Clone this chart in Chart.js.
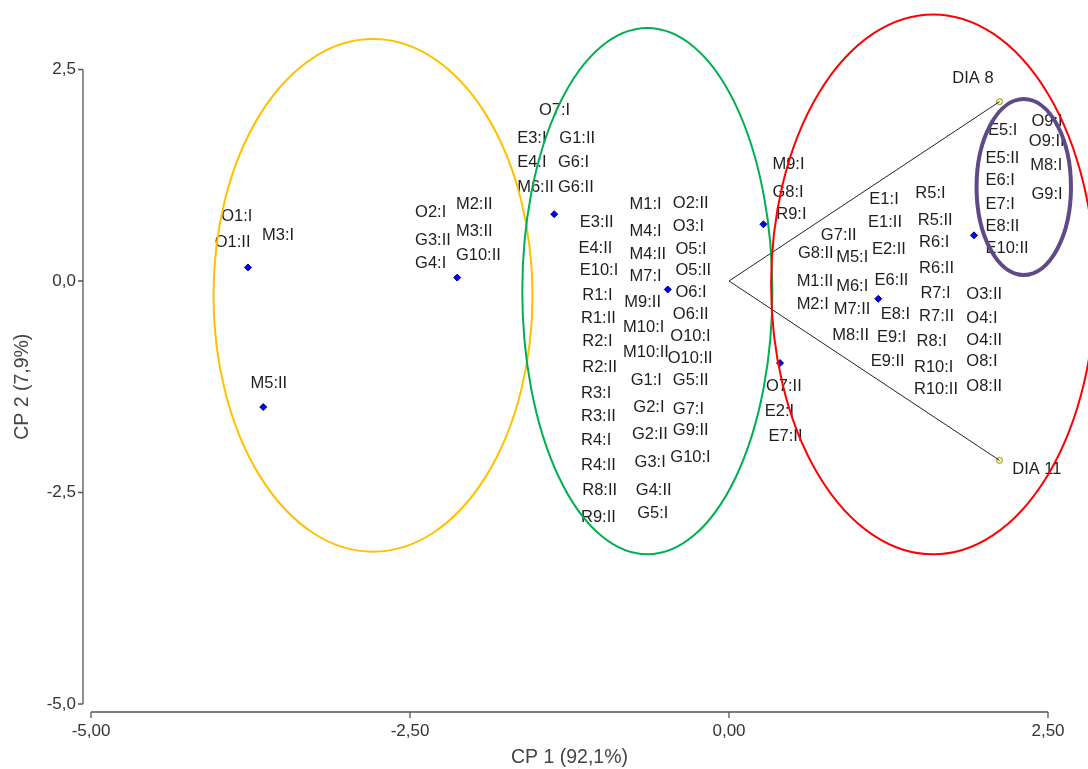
<!DOCTYPE html>
<html>
<head>
<meta charset="utf-8">
<script src="https://cdn.jsdelivr.net/npm/chart.js@4.4.0/dist/chart.umd.min.js"></script>
<style>
    html, body { margin: 0; padding: 0; background: #fff; }
</style>
</head>
<body>
<canvas id="biplot" width="1088" height="769"></canvas>
<script>
// Sample scores (blue diamonds)
const scoreX = [-3.77, -3.65, -2.13, -1.37, -0.48, 0.27, 0.40, 1.17, 1.92];
const scoreY = [0.16, -1.49, 0.04, 0.79, -0.10, 0.67, -0.97, -0.21, 0.54];

// Variable loadings (yellow points + vectors from origin)
const loadingNames = ['DIA 8', 'DIA 11'];
const loadingX = [2.12, 2.12];
const loadingY = [2.12, -2.12];
const loadingLabelX = [1.75, 2.22];
const loadingLabelY = [2.39, -2.23];

// Sample labels, anchored in data units (left edge, vertical middle)
const labelText = [
    'O1:I', 'O1:II', 'M3:I', 'M5:II', 'O2:I', 'G3:II', 'G4:I', 'M2:II', 'M3:II', 'G10:II',
    'O7:I', 'E3:I', 'G1:II', 'E4:I', 'G6:I', 'M6:II', 'G6:II',
    'E3:II', 'E4:II', 'E10:I', 'R1:I', 'R1:II', 'R2:I', 'R2:II', 'R3:I', 'R3:II', 'R4:I', 'R4:II', 'R8:II', 'R9:II',
    'M1:I', 'M4:I', 'M4:II', 'M7:I', 'M9:II', 'M10:I', 'M10:II', 'G1:I', 'G2:I', 'G2:II', 'G3:I', 'G4:II', 'G5:I',
    'O2:II', 'O3:I', 'O5:I', 'O5:II', 'O6:I', 'O6:II', 'O10:I', 'O10:II', 'G5:II', 'G7:I', 'G9:II', 'G10:I',
    'M9:I', 'G8:I', 'R9:I', 'O7:II', 'E2:I', 'E7:II',
    'G7:II', 'G8:II', 'M5:I', 'M1:II', 'M6:I', 'M2:I', 'M7:II', 'M8:II',
    'E1:I', 'E1:II', 'E2:II', 'E6:II', 'E8:I', 'E9:I', 'E9:II',
    'R5:I', 'R5:II', 'R6:I', 'R6:II', 'R7:I', 'R7:II', 'R8:I', 'R10:I', 'R10:II',
    'O3:II', 'O4:I', 'O4:II', 'O8:I', 'O8:II',
    'E5:I', 'E5:II', 'E6:I', 'E7:I', 'E8:II', 'E10:II', 'O9:I', 'O9:II', 'M8:I', 'G9:I'
];
const labelX = [
    -3.98, -4.03, -3.66, -3.75, -2.46, -2.46, -2.46, -2.14, -2.14, -2.14,
    -1.49, -1.66, -1.33, -1.66, -1.34, -1.66, -1.34,
    -1.17, -1.18, -1.17, -1.15, -1.16, -1.15, -1.15, -1.16, -1.16, -1.16, -1.16, -1.15, -1.16,
    -0.78, -0.78, -0.78, -0.78, -0.82, -0.83, -0.83, -0.77, -0.75, -0.76, -0.74, -0.73, -0.72,
    -0.44, -0.44, -0.42, -0.42, -0.42, -0.44, -0.46, -0.48, -0.44, -0.44, -0.44, -0.46,
    0.34, 0.34, 0.37, 0.29, 0.28, 0.31,
    0.72, 0.54, 0.84, 0.53, 0.84, 0.53, 0.82, 0.81,
    1.10, 1.09, 1.12, 1.14, 1.19, 1.16, 1.11,
    1.46, 1.48, 1.49, 1.49, 1.50, 1.49, 1.47, 1.45, 1.45,
    1.86, 1.86, 1.86, 1.86, 1.86,
    2.03, 2.01, 2.01, 2.01, 2.01, 2.01, 2.37, 2.35, 2.36, 2.37
];
const labelY = [
    0.76, 0.45, 0.54, -1.21, 0.81, 0.48, 0.21, 0.90, 0.59, 0.30,
    2.02, 1.69, 1.69, 1.40, 1.40, 1.10, 1.10,
    0.69, 0.39, 0.12, -0.17, -0.44, -0.72, -1.02, -1.33, -1.60, -1.89, -2.18, -2.47, -2.80,
    0.90, 0.58, 0.31, 0.05, -0.25, -0.55, -0.85, -1.17, -1.50, -1.81, -2.15, -2.48, -2.75,
    0.92, 0.64, 0.37, 0.13, -0.13, -0.39, -0.66, -0.91, -1.17, -1.52, -1.77, -2.08,
    1.38, 1.05, 0.79, -1.25, -1.54, -1.84,
    0.54, 0.32, 0.28, 0.00, -0.06, -0.28, -0.34, -0.64,
    0.96, 0.69, 0.37, 0.01, -0.40, -0.67, -0.95,
    1.03, 0.72, 0.46, 0.15, -0.15, -0.42, -0.72, -1.02, -1.28,
    -0.16, -0.44, -0.70, -0.95, -1.25,
    1.78, 1.45, 1.19, 0.91, 0.64, 0.39, 1.88, 1.65, 1.36, 1.02
];

// Group ellipses (centre and radii in data units): yellow, green, red, purple
const ellipseCx = [-2.79, -0.64, 1.60, 2.31];
const ellipseCy = [-0.17, -0.12, -0.04, 1.11];
const ellipseRx = [1.25, 0.98, 1.27, 0.37];
const ellipseRy = [3.03, 3.11, 3.19, 1.04];

const axisTicks = [-5, -2.5, 0, 2.5];

const FONT = '"Liberation Sans", Arial, sans-serif';

// Draws the ellipses, text labels and the detached axis lines
const biplotExtras = {
    id: 'biplotExtras',
    afterDatasetsDraw(chart) {
        const { ctx, scales: { x, y } } = chart;
        ctx.save();

        ctx.font = `16.5px ${FONT}`;
        ctx.fillStyle = '#1e1e1e';
        ctx.textAlign = 'left';
        ctx.textBaseline = 'middle';
        labelText.forEach((text, i) => {
            ctx.fillText(text, x.getPixelForValue(labelX[i]), y.getPixelForValue(labelY[i]));
        });
        loadingNames.forEach((text, i) => {
            ctx.fillText(text, x.getPixelForValue(loadingLabelX[i]), y.getPixelForValue(loadingLabelY[i]));
        });

        const colors = ['#FFC000', '#00B050', '#FF0000', '#5E4A86'];
        const widths = [2, 2, 2, 4];
        ellipseCx.forEach((cx, i) => {
            const px = x.getPixelForValue(cx);
            const py = y.getPixelForValue(ellipseCy[i]);
            const rx = Math.abs(x.getPixelForValue(cx + ellipseRx[i]) - px);
            const ry = Math.abs(y.getPixelForValue(ellipseCy[i] + ellipseRy[i]) - py);
            ctx.beginPath();
            ctx.ellipse(px, py, rx, ry, 0, 0, Math.PI * 2);
            ctx.strokeStyle = colors[i];
            ctx.lineWidth = widths[i];
            ctx.stroke();
        });
        ctx.restore();
    },
    afterDraw(chart) {
        const { ctx, chartArea, scales: { x, y } } = chart;
        const axisX = chartArea.left - 8;
        const axisY = chartArea.bottom + 8;
        ctx.save();
        ctx.strokeStyle = '#555';
        ctx.lineWidth = 1.3;
        ctx.beginPath();
        ctx.moveTo(axisX, y.getPixelForValue(2.5));
        ctx.lineTo(axisX, y.getPixelForValue(-5));
        ctx.moveTo(x.getPixelForValue(-5), axisY);
        ctx.lineTo(x.getPixelForValue(2.5), axisY);
        axisTicks.forEach(v => {
            const py = y.getPixelForValue(v);
            ctx.moveTo(axisX - 5, py);
            ctx.lineTo(axisX, py);
            const px = x.getPixelForValue(v);
            ctx.moveTo(px, axisY);
            ctx.lineTo(px, axisY + 6);
        });
        ctx.stroke();
        ctx.restore();
    }
};

const vectorData = loadingX.map((lx, i) => [{ x: 0, y: 0 }, { x: lx, y: loadingY[i] }]);

new Chart(document.querySelector('#biplot'), {
    type: 'scatter',
    data: {
        datasets: [
            ...vectorData.map(points => ({
                data: points,
                showLine: true,
                borderColor: '#222',
                borderWidth: 1,
                pointRadius: 0,
                clip: false
            })),
            {
                data: scoreX.map((sx, i) => ({ x: sx, y: scoreY[i] })),
                pointStyle: 'rectRot',
                pointRadius: 3.5,
                backgroundColor: '#0000FF',
                borderColor: '#00007a',
                borderWidth: 1,
                clip: false
            },
            {
                data: loadingX.map((lx, i) => ({ x: lx, y: loadingY[i] })),
                pointStyle: 'circle',
                pointRadius: 3,
                backgroundColor: '#FFFF80',
                borderColor: '#8a8a50',
                borderWidth: 1,
                clip: false
            }
        ]
    },
    options: {
        responsive: false,
        animation: false,
        layout: { padding: { top: 69.5, right: 40, bottom: 0, left: 0 } },
        plugins: {
            legend: { display: false },
            tooltip: { enabled: false }
        },
        scales: {
            x: {
                type: 'linear',
                min: -5,
                max: 2.5,
                afterBuildTicks: scale => { scale.ticks = axisTicks.map(v => ({ value: v })); },
                afterFit: scale => { scale.height = 65; },
                grid: { display: false, drawTicks: false },
                border: { display: false },
                ticks: {
                    padding: 17,
                    color: '#333',
                    font: { family: FONT, size: 17 },
                    callback: value => value.toFixed(2).replace('.', ',')
                },
                title: {
                    display: true,
                    text: 'CP 1 (92,1%)',
                    color: '#444',
                    font: { family: FONT, size: 19.5, lineHeight: 1.2 },
                    padding: { top: 0, bottom: 0 }
                }
            },
            y: {
                type: 'linear',
                min: -5,
                max: 2.5,
                afterBuildTicks: scale => { scale.ticks = axisTicks.map(v => ({ value: v })); },
                afterFit: scale => { scale.width = 91; },
                grid: { display: false, drawTicks: false },
                border: { display: false },
                ticks: {
                    padding: 15,
                    color: '#333',
                    font: { family: FONT, size: 17 },
                    callback: value => value.toFixed(1).replace('.', ',')
                },
                title: {
                    display: true,
                    text: 'CP 2 (7,9%)',
                    color: '#444',
                    font: { family: FONT, size: 19.5, lineHeight: 1.2 },
                    padding: { top: 10.5, bottom: 0 }
                }
            }
        }
    },
    plugins: [biplotExtras]
});
</script>
</body>
</html>
